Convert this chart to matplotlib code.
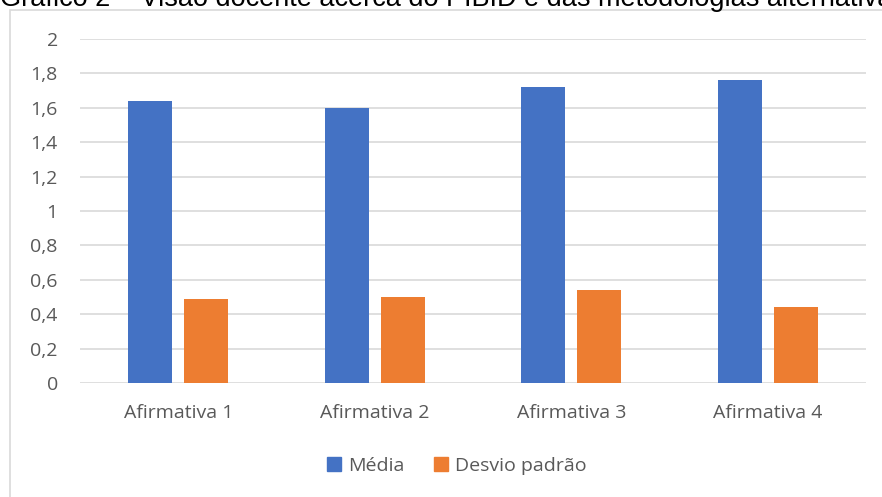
import numpy as np
import matplotlib.pyplot as plt
from matplotlib.patches import Rectangle, Patch

categorias = ["Afirmativa 1", "Afirmativa 2", "Afirmativa 3", "Afirmativa 4"]
media = [1.64, 1.60, 1.72, 1.76]
desvio = [0.49, 0.50, 0.54, 0.44]
yticks = [0, 0.2, 0.4, 0.6, 0.8, 1, 1.2, 1.4, 1.6, 1.8, 2]
ytick_labels = ["0", "0,2", "0,4", "0,6", "0,8", "1", "1,2", "1,4", "1,6", "1,8", "2"]
titulo = "Gráfico 2 – Visão docente acerca do PIBID e das metodologias alternativas"

azul = "#4472C4"
laranja = "#ED7D31"
cinza_texto = "#595959"
cinza_grade = "#D9D9D9"

plt.rcParams["font.family"] = ["Open Sans", "DejaVu Sans"]

fig = plt.figure(figsize=(8.82, 4.97), dpi=100)

# chart area border (extends past the right/bottom edge like the screenshot)
fig.patches.append(Rectangle((10 / 882, -0.1), 1.0, 1 - 10 / 497 + 0.1,
                             transform=fig.transFigure, fill=False,
                             edgecolor=cinza_grade, linewidth=1.2))

# title, cut off at the top
fig.text(0.0, 1 - 6 / 497, titulo, family=["Liberation Sans", "DejaVu Sans"],
         fontsize=19.5, color="black", va="baseline", ha="left")

ax = fig.add_axes([80 / 882, 1 - 383 / 497, (866 - 80) / 882, (383 - 39) / 497])

x = np.arange(len(categorias))
largura = 0.224
desloc = 0.1425
ax.bar(x - desloc, media, largura, color=azul, label="Média", zorder=3)
ax.bar(x + desloc, desvio, largura, color=laranja, label="Desvio padrão", zorder=3)

ax.set_xlim(-0.5, len(categorias) - 0.5)
ax.set_ylim(0, 2)
ax.set_yticks(yticks)
ax.set_yticklabels(ytick_labels)
ax.set_xticks(x)
ax.set_xticklabels(categorias)
ax.tick_params(axis="both", length=0, labelsize=14, labelcolor=cinza_texto)
ax.tick_params(axis="y", pad=16)
ax.tick_params(axis="x", pad=15)
ax.grid(axis="y", color=cinza_grade, linewidth=1.2, zorder=0)
for s in ax.spines.values():
    s.set_visible(False)

handles = [Patch(color=azul, label="Média"), Patch(color=laranja, label="Desvio padrão")]
fig.legend(handles=handles, loc="center", bbox_to_anchor=(457 / 882, 1 - 466 / 497),
           ncol=2, frameon=False, fontsize=14, labelcolor=cinza_texto,
           handlelength=0.7, handleheight=0.7, handletextpad=0.4, columnspacing=1.5)

fig.savefig("out.png", dpi=100)
